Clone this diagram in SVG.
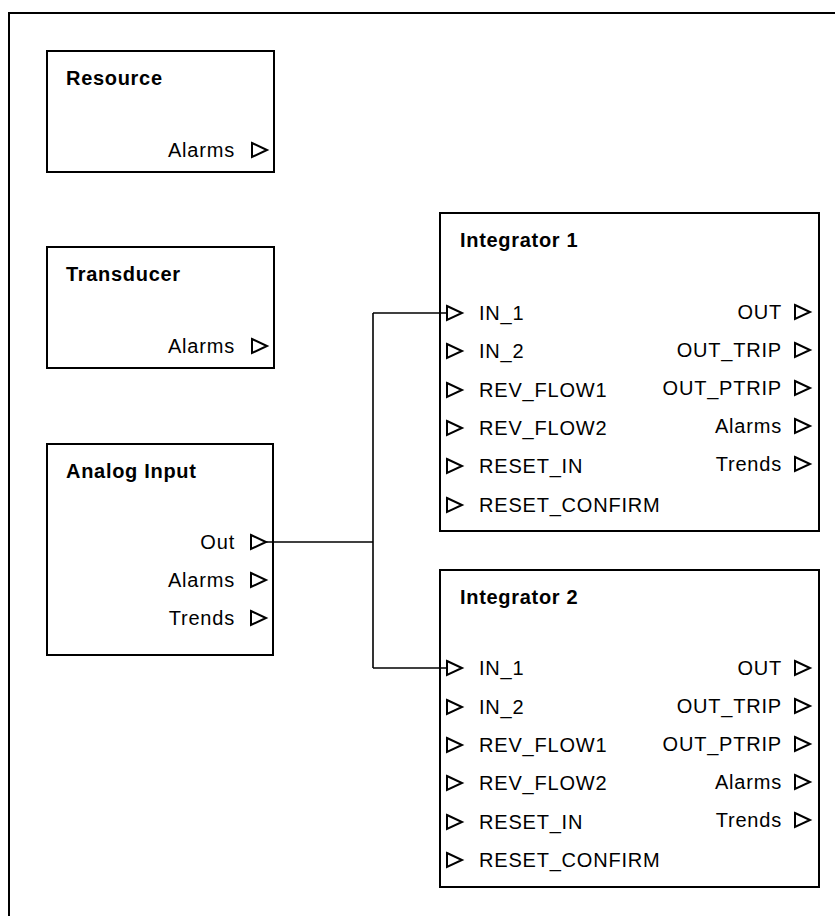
<svg xmlns="http://www.w3.org/2000/svg" width="835" height="916" viewBox="0 0 835 916">
<defs>
<style>
.box{fill:#fff;stroke:#000;stroke-width:2}
.frame{fill:none;stroke:#000;stroke-width:2}
.t{font-family:"Liberation Sans",Arial,sans-serif;font-size:20px;fill:#000;letter-spacing:0.8px}
.b{font-family:"Liberation Sans",Arial,sans-serif;font-size:20px;font-weight:bold;fill:#000;letter-spacing:0.7px}
.e{text-anchor:end}
.tri{fill:#fff;stroke:#000;stroke-width:2;stroke-linejoin:miter}
.wire{fill:none;stroke:#000;stroke-width:1.6}
</style>
<path id="port" class="tri" d="M0,-7 L15,0 L0,7 Z"/>
</defs>
<rect class="frame" x="9" y="13" width="840" height="920"/>

<g id="resource">
<rect class="box" x="47" y="51" width="227" height="121"/>
<text class="b" x="66" y="85">Resource</text>
<text class="t e" x="235" y="157">Alarms</text>
<use href="#port" x="252" y="150"/>
</g>

<g id="transducer">
<rect class="box" x="47" y="247" width="227" height="121"/>
<text class="b" x="66" y="281">Transducer</text>
<text class="t e" x="235" y="353">Alarms</text>
<use href="#port" x="252" y="346"/>
</g>

<g id="analog-input">
<rect class="box" x="47" y="444" width="226" height="211"/>
<text class="b" x="66" y="478">Analog Input</text>
<text class="t e" x="235" y="549">Out</text>
<use href="#port" x="251" y="542"/>
<text class="t e" x="235" y="587">Alarms</text>
<use href="#port" x="251" y="580"/>
<text class="t e" x="235" y="625">Trends</text>
<use href="#port" x="251" y="618"/>
</g>

<g id="integrator-1">
<rect class="box" x="440" y="213" width="379" height="318"/>
<text class="b" x="460" y="247">Integrator 1</text>
<use href="#port" x="447" y="313"/><text class="t" x="479" y="320">IN_1</text>
<use href="#port" x="447" y="351"/><text class="t" x="479" y="358">IN_2</text>
<use href="#port" x="447" y="390"/><text class="t" x="479" y="397">REV_FLOW1</text>
<use href="#port" x="447" y="428"/><text class="t" x="479" y="435">REV_FLOW2</text>
<use href="#port" x="447" y="466"/><text class="t" x="479" y="473">RESET_IN</text>
<use href="#port" x="447" y="505"/><text class="t" x="479" y="512">RESET_CONFIRM</text>
<text class="t e" x="782" y="319">OUT</text><use href="#port" x="795" y="312"/>
<text class="t e" x="782" y="357">OUT_TRIP</text><use href="#port" x="795" y="350"/>
<text class="t e" x="782" y="395">OUT_PTRIP</text><use href="#port" x="795" y="388"/>
<text class="t e" x="782" y="433">Alarms</text><use href="#port" x="795" y="426"/>
<text class="t e" x="782" y="471">Trends</text><use href="#port" x="795" y="464"/>
</g>

<g id="integrator-2">
<rect class="box" x="440" y="570" width="379" height="317"/>
<text class="b" x="460" y="604">Integrator 2</text>
<use href="#port" x="447" y="668"/><text class="t" x="479" y="675">IN_1</text>
<use href="#port" x="447" y="707"/><text class="t" x="479" y="714">IN_2</text>
<use href="#port" x="447" y="745"/><text class="t" x="479" y="752">REV_FLOW1</text>
<use href="#port" x="447" y="783"/><text class="t" x="479" y="790">REV_FLOW2</text>
<use href="#port" x="447" y="822"/><text class="t" x="479" y="829">RESET_IN</text>
<use href="#port" x="447" y="860"/><text class="t" x="479" y="867">RESET_CONFIRM</text>
<text class="t e" x="782" y="675">OUT</text><use href="#port" x="795" y="668"/>
<text class="t e" x="782" y="713">OUT_TRIP</text><use href="#port" x="795" y="706"/>
<text class="t e" x="782" y="751">OUT_PTRIP</text><use href="#port" x="795" y="744"/>
<text class="t e" x="782" y="789">Alarms</text><use href="#port" x="795" y="782"/>
<text class="t e" x="782" y="827">Trends</text><use href="#port" x="795" y="820"/>
</g>

<g id="connectors">
<path class="wire" d="M266,542 H373"/>
<path class="wire" d="M373,313 V668"/>
<path class="wire" d="M373,313 H447"/>
<path class="wire" d="M373,668 H447"/>
</g>
</svg>
